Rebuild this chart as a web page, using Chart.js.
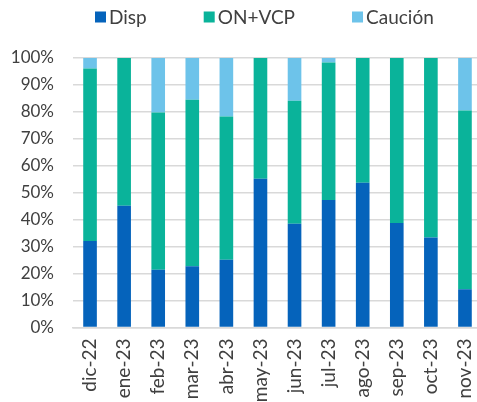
<!DOCTYPE html>
<html>
<head>
<meta charset="utf-8">
<script src="https://cdn.jsdelivr.net/npm/chart.js@4.4.0/dist/chart.umd.min.js"></script>
<style>
  html, body { margin: 0; padding: 0; background: #fff; overflow: hidden; }
  #wrap { width: 482px; height: 402px; }
</style>
</head>
<body>
<div id="wrap"><canvas id="chart" width="482" height="402"></canvas></div>
<script>
const meses = ["dic-22", "ene-23", "feb-23", "mar-23", "abr-23", "may-23", "jun-23", "jul-23", "ago-23", "sep-23", "oct-23", "nov-23"];
const disp = [32.1, 45.2, 21.4, 22.7, 25.1, 55.2, 38.5, 47.3, 53.7, 38.8, 33.4, 14.2];
const onVcp = [64.0, 54.8, 58.4, 61.8, 53.2, 44.8, 45.6, 51.0, 46.3, 61.2, 66.6, 66.3];
const caucion = [3.9, 0, 20.2, 15.5, 21.7, 0, 15.9, 1.7, 0, 0, 0, 19.5];

const textColor = '#404040';
const gridColor = '#d9d9d9';

// leyenda dibujada a mano: chart.js usa el mismo padding en vertical y horizontal
const topLegend = {
    id: 'topLegend',
    afterDraw(chart) {
        const c = chart.ctx;
        c.save();
        c.font = '19px Lato';
        c.textBaseline = 'middle';
        c.textAlign = 'left';
        let x = 95;
        const y = 17;
        chart.data.datasets.forEach(ds => {
            c.fillStyle = ds.backgroundColor;
            c.fillRect(x, y - 5.5, 11, 11);
            c.fillStyle = textColor;
            c.fillText(ds.label, x + 14, y + 1);
            x += 14 + c.measureText(ds.label).width + 57;
        });
        c.restore();
    }
};

const ctx = document.getElementById('chart').getContext('2d');
const chart = new Chart(ctx, {
    type: 'bar',
    data: {
        labels: meses,
        datasets: [
            { label: 'Disp', data: disp, backgroundColor: '#0563bb' },
            { label: 'ON+VCP', data: onVcp, backgroundColor: '#0ab39a' },
            { label: 'Caución', data: caucion, backgroundColor: '#6dc3ea' }
        ]
    },
    options: {
        responsive: false,
        animation: false,
        layout: { padding: { top: 58, right: 0, bottom: 0, left: 0 } },
        datasets: {
            bar: { categoryPercentage: 1, barPercentage: 0.4 }
        },
        plugins: {
            tooltip: { enabled: false },
            legend: { display: false }
        },
        scales: {
            x: {
                stacked: true,
                grid: { display: false, drawTicks: false },
                border: { color: gridColor, width: 1.5 },
                afterFit: s => {
                    s.height = 74.5;
                    s.paddingLeft = 0;
                    s.paddingRight = 0;
                },
                ticks: {
                    color: textColor,
                    font: { family: 'Lato', size: 19 },
                    maxRotation: 90,
                    minRotation: 90,
                    padding: 11
                }
            },
            y: {
                stacked: true,
                min: 0,
                max: 100,
                grid: { color: gridColor, lineWidth: 1.5, drawTicks: false },
                border: { display: false },
                afterFit: s => { s.width = 73; },
                ticks: {
                    stepSize: 10,
                    color: textColor,
                    font: { family: 'Lato', size: 17 },
                    padding: 19,
                    callback: v => v + '%'
                }
            }
        }
    },
    plugins: [topLegend]
});
</script>
</body>
</html>
